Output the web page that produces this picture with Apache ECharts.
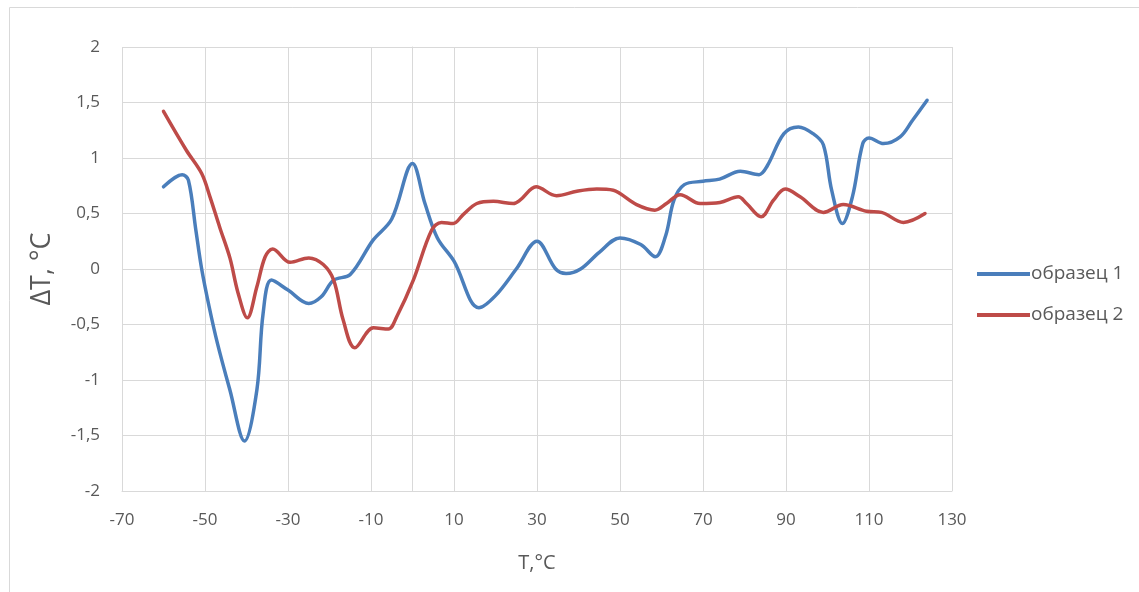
<!DOCTYPE html>
<html>
<head>
<meta charset="utf-8">
<script src="https://cdn.jsdelivr.net/npm/echarts@6/dist/echarts.min.js"></script>
<style>html,body{margin:0;padding:0;background:#fff}#c{width:1139px;height:592px}</style>
</head>
<body>
<div id="c"></div>
<script>
var seriesNames = ['образец 1', 'образец 2'];
var xTicks = [-70, 130, 20];
var yTicks = [-2, 2, 0.5];
var sample1 = [
  [-60, 0.74], [-55.5, 0.85], [-54, 0.8], [-52.2, 0.35], [-50.8, 0], [-49, -0.34], [-47, -0.67],
  [-44, -1.09], [-40.5, -1.55], [-37.5, -1.09], [-36, -0.4], [-34, -0.1], [-30, -0.19],
  [-25, -0.31], [-22, -0.25], [-19, -0.1], [-15, -0.05], [-9.5, 0.26], [-5, 0.45],
  [0, 0.95], [3, 0.59], [6, 0.28], [10, 0.07], [16, -0.35], [20, -0.24], [25, 0.0],
  [30, 0.25], [34.5, 0.0], [37, -0.04], [40.5, 0.0], [45, 0.15], [50, 0.28], [55, 0.22],
  [58.5, 0.11], [61, 0.3], [63, 0.62], [65.5, 0.76], [70, 0.79], [74, 0.81], [79, 0.88],
  [83.5, 0.85], [85.5, 0.93], [89.5, 1.22], [93, 1.28], [96.5, 1.22], [99, 1.12],
  [101, 0.71], [103.6, 0.41], [106, 0.65], [108.5, 1.13], [110, 1.18], [113.5, 1.13],
  [117.5, 1.19], [120.5, 1.34], [124, 1.52]
];
var sample2 = [
  [-60, 1.42], [-54.5, 1.07], [-50.8, 0.86], [-48.8, 0.65], [-46.4, 0.37], [-44, 0.1],
  [-42, -0.22], [-39.8, -0.44], [-37.5, -0.16], [-35.5, 0.11], [-33.7, 0.18], [-29.5, 0.06],
  [-25, 0.1], [-21.5, 0.04], [-19, -0.1], [-16.7, -0.46], [-13.9, -0.71], [-9.4, -0.53],
  [-5.8, -0.54], [-3.8, -0.43], [0.2, -0.1], [4.6, 0.35], [7, 0.42], [9.8, 0.41],
  [12.2, 0.49], [15.5, 0.59], [19.5, 0.61], [24.3, 0.59], [25.9, 0.62], [29.8, 0.74],
  [34.7, 0.66], [39.6, 0.7], [44.4, 0.72], [48.4, 0.71], [50, 0.68], [54, 0.58],
  [58.4, 0.53], [61.2, 0.59], [64.5, 0.67], [69.3, 0.59], [74.1, 0.6], [78.5, 0.65],
  [80.5, 0.59], [84, 0.47], [87, 0.62], [89.8, 0.72], [93.4, 0.65], [99, 0.51],
  [103.8, 0.58], [109.4, 0.52], [113, 0.51], [118.3, 0.42], [123.5, 0.5]
];
var colors = ['#4a7ebb', '#be4b48'];
var font = '"Open Sans", "Noto Sans", sans-serif';
var chart = echarts.init(document.getElementById('c'), null, {renderer: 'canvas'});
chart.setOption({
  animation: false,
  color: colors,
  graphic: [{
    type: 'rect', left: 7, top: 5,
    shape: {width: 1160, height: 620},
    style: {fill: 'none', stroke: '#d9d9d9', lineWidth: 1},
    silent: true
  }],
  grid: {left: 122, right: 187, top: 47, bottom: 101},
  legend: {
    orient: 'vertical', left: 972, top: 258, icon: 'rect', itemWidth: 53, itemHeight: 4, itemGap: 19,
    textStyle: {fontSize: 19, lineHeight: 22, color: '#595959', fontFamily: font, padding: [0, 0, 0, -4]},
    data: seriesNames
  },
  xAxis: {
    type: 'value', min: xTicks[0], max: xTicks[1], interval: xTicks[2],
    name: 'T,°C', nameLocation: 'middle', nameGap: 62,
    nameTextStyle: {fontSize: 20, color: '#595959', fontFamily: font},
    axisLine: {show: true, onZero: false, lineStyle: {color: '#d9d9d9', width: 1}},
    axisTick: {show: false},
    axisLabel: {fontSize: 17, color: '#595959', fontFamily: font, margin: 21},
    splitLine: {show: true, lineStyle: {color: '#d9d9d9', width: 1}}
  },
  yAxis: {
    type: 'value', min: yTicks[0], max: yTicks[1], interval: yTicks[2],
    name: 'ΔT, °C', nameLocation: 'middle', nameGap: 66, nameRotate: 90,
    nameTextStyle: {fontSize: 27, color: '#595959', fontFamily: font},
    axisLine: {show: true, lineStyle: {color: '#d9d9d9', width: 1}},
    axisTick: {show: false},
    axisLabel: {fontSize: 17, color: '#595959', fontFamily: font, margin: 22,
      formatter: function (v) { return String(v).replace('.', ','); }},
    splitLine: {show: true, lineStyle: {color: '#d9d9d9', width: 1}}
  },
  series: [
    {name: seriesNames[0], type: 'line', data: sample1, smooth: 0.35, showSymbol: false, symbol: 'none',
      lineStyle: {width: 3.5, color: colors[0], cap: 'round'}},
    {name: seriesNames[1], type: 'line', data: sample2, smooth: 0.35, showSymbol: false, symbol: 'none',
      lineStyle: {width: 3.5, color: colors[1], cap: 'round'}}
  ]
});
</script>
</body>
</html>
